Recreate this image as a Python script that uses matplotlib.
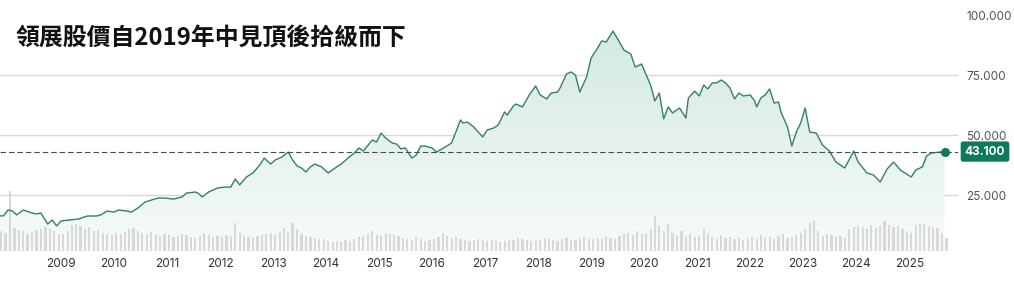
import numpy as np
import pandas as pd
import matplotlib
matplotlib.use("Agg")
import matplotlib.pyplot as plt
import matplotlib.dates as mdates
import matplotlib.transforms as mtransforms

plt.rcParams['font.family'] = ['Inter', 'Noto Sans CJK TC', 'DejaVu Sans']

title = "領展股價自2019年中見頂後拾級而下"

# closing price (HKD)
price_dates = [
    "2007-11-01", "2007-12-01", "2008-01-01", "2008-02-01", "2008-03-01", "2008-04-15",
    "2008-06-15", "2008-07-15", "2008-08-15", "2008-09-01", "2008-10-01", "2008-11-01",
    "2008-12-01", "2009-01-01", "2009-03-01", "2009-05-01", "2009-07-01", "2009-09-01",
    "2009-10-01", "2009-11-15", "2010-01-01", "2010-02-01", "2010-04-01", "2010-05-01",
    "2010-06-15", "2010-08-01", "2010-09-15", "2010-11-01", "2010-12-15", "2011-02-15",
    "2011-04-15", "2011-05-15", "2011-07-15", "2011-08-01", "2011-09-01", "2011-10-15",
    "2011-12-15", "2012-02-01", "2012-03-15", "2012-04-15", "2012-05-15", "2012-07-01",
    "2012-08-15", "2012-10-01", "2012-11-01", "2012-12-15", "2013-01-15", "2013-03-01",
    "2013-04-15", "2013-05-15", "2013-06-15", "2013-07-15", "2013-08-15", "2013-09-15",
    "2013-10-15", "2013-12-01", "2014-01-15", "2014-03-15", "2014-04-15", "2014-06-01",
    "2014-07-15", "2014-08-15", "2014-09-15", "2014-10-01", "2014-11-15", "2014-12-15",
    "2015-01-15", "2015-02-15", "2015-04-01", "2015-05-01", "2015-06-01", "2015-07-01",
    "2015-08-15", "2015-09-15", "2015-10-15", "2015-11-15", "2016-01-01", "2016-02-01",
    "2016-04-01", "2016-05-15", "2016-07-15", "2016-08-01", "2016-09-01", "2016-10-15",
    "2016-12-15", "2017-01-15", "2017-03-01", "2017-04-01", "2017-05-15", "2017-06-01",
    "2017-07-15", "2017-08-01", "2017-09-15", "2017-11-01", "2017-12-15", "2018-01-15",
    "2018-03-01", "2018-04-01", "2018-05-15", "2018-06-01", "2018-07-15", "2018-08-15",
    "2018-09-15", "2018-10-15", "2018-12-01", "2019-01-01", "2019-02-15", "2019-03-15",
    "2019-04-15", "2019-06-01", "2019-07-15", "2019-08-15", "2019-10-01", "2019-11-01",
    "2019-12-15", "2020-01-01", "2020-02-15", "2020-03-15", "2020-04-15", "2020-05-15",
    "2020-06-15", "2020-07-15", "2020-09-01", "2020-10-15", "2020-11-01", "2020-12-15",
    "2021-01-15", "2021-02-15", "2021-03-15", "2021-04-15", "2021-05-15", "2021-06-15",
    "2021-07-15", "2021-08-15", "2021-09-15", "2021-10-15", "2021-11-15", "2022-01-01",
    "2022-02-01", "2022-02-15", "2022-03-15", "2022-04-15", "2022-05-15", "2022-06-15",
    "2022-07-15", "2022-08-01", "2022-09-15", "2022-10-15", "2022-11-15", "2022-12-15",
    "2023-01-15", "2023-02-15", "2023-04-01", "2023-05-15", "2023-07-01", "2023-08-15",
    "2023-10-15", "2023-12-15", "2024-01-15", "2024-03-15", "2024-05-01", "2024-06-15",
    "2024-08-01", "2024-09-15", "2024-11-01", "2025-01-15", "2025-02-15", "2025-04-01",
    "2025-05-01", "2025-06-01", "2025-09-01",
]
prices = [
    16.3, 16.3, 18.75, 18.3, 16.7, 18.75,
    17.5, 17.1, 17.5, 15.8, 12.9, 14.6,
    12.1, 14.2, 14.6, 15.0, 16.25, 16.25,
    16.7, 18.3, 17.9, 18.75, 18.3, 17.9,
    19.6, 22.0, 22.9, 23.75, 23.75, 23.3,
    24.2, 25.8, 26.25, 25.8, 24.2, 26.25,
    27.9, 28.3, 28.3, 31.7, 29.2, 32.5,
    34.2, 37.5, 40.4, 37.9, 39.6, 40.8,
    42.9, 39.6, 37.1, 36.25, 34.6, 36.7,
    37.9, 36.7, 34.2, 36.7, 37.9, 40.4,
    42.5, 44.6, 43.3, 44.6, 47.9, 47.1,
    50.8, 48.75, 46.7, 46.25, 44.2, 44.6,
    40.4, 41.7, 45.4, 45.4, 44.6, 42.9,
    45.0, 46.7, 56.25, 55.0, 55.4, 53.3,
    49.2, 52.1, 52.9, 54.2, 59.6, 58.3,
    62.1, 62.9, 61.7, 66.7, 70.4, 66.7,
    65.0, 67.5, 67.9, 69.6, 75.4, 76.25,
    75.0, 67.9, 74.2, 82.1, 86.25, 89.2,
    88.75, 93.3, 88.75, 85.4, 83.75, 78.3,
    79.6, 77.1, 70.8, 64.2, 67.5, 56.7,
    61.7, 59.2, 61.25, 57.1, 65.4, 68.3,
    66.25, 70.8, 69.2, 71.7, 71.7, 72.9,
    71.7, 69.6, 65.0, 67.5, 66.25, 66.7,
    64.2, 61.7, 65.4, 66.7, 69.2, 63.3,
    63.75, 59.6, 53.3, 45.4, 51.25, 55.0,
    61.25, 51.25, 50.8, 45.8, 43.3, 38.75,
    36.25, 43.3, 38.75, 34.2, 33.3, 30.4,
    35.8, 38.75, 35.4, 32.5, 35.4, 36.7,
    41.25, 42.5, 43.1,
]
last_price = 43.1

# monthly turnover (relative units), Nov 2007 - Sep 2025
volume_start = "2007-11-01"
volumes = [
    20, 18,
    60, 23, 21, 20, 17, 19, 21, 22, 24, 22, 20, 17,
    17, 20, 26, 27, 25, 22, 24, 20, 21, 18, 17, 16,
    18, 17, 19, 22, 23, 20, 18, 17, 19, 16, 15, 17,
    16, 14, 15, 17, 16, 14, 13, 15, 18, 16, 14, 15,
    14, 16, 15, 28, 18, 15, 14, 13, 15, 16, 17, 18,
    16, 20, 23, 19, 28, 22, 17, 15, 14, 13, 12, 12,
    10, 9, 10, 9, 11, 10, 12, 14, 15, 17, 20, 16,
    15, 18, 17, 16, 15, 13, 12, 11, 14, 12, 10, 11,
    12, 14, 18, 15, 13, 14, 12, 11, 10, 11, 12, 11,
    10, 11, 10, 9, 10, 12, 11, 13, 12, 11, 10, 12,
    11, 13, 12, 11, 10, 12, 13, 12, 11, 12, 14, 12,
    12, 13, 12, 14, 13, 12, 15, 17, 18, 16, 20, 17,
    18, 22, 35, 25, 20, 27, 18, 16, 20, 15, 17, 14,
    15, 22, 18, 14, 12, 16, 13, 14, 12, 13, 11, 12,
    14, 12, 16, 13, 14, 12, 15, 17, 13, 14, 16, 18,
    22, 28, 30, 20, 15, 17, 16, 14, 15, 13, 22, 24,
    25, 24, 22, 26, 23, 25, 30, 26, 24, 25, 22, 20,
    18, 26, 28, 27, 25, 24, 23, 18, 13,
]

y_ticks = [25, 50, 75, 100]
grid_levels = [25, 50, 75]
years = list(range(2009, 2026))

line_color = "#34806b"
badge_color = "#0f7a5a"

W, H = 1014, 290
fig = plt.figure(figsize=(W / 100, H / 100), dpi=100)
ax = fig.add_axes([0, (H - 251) / H, 958 / W, 251 / H])

x = mdates.date2num(pd.to_datetime(price_dates))
y = np.array(prices)

ymin, ymax = 1.67, 106.25
xmin = mdates.date2num(pd.Timestamp("2007-11-07"))
xmax = mdates.date2num(pd.Timestamp("2025-12-03"))

# gradient area under the line
poly = ax.fill_between(x, y, ymin, color="none", lw=0)
c_top = np.array(matplotlib.colors.to_rgb("#cfe6e1"))
c_bot = np.array(matplotlib.colors.to_rgb("#f7fbfa"))
g = np.linspace(1, 0, 256)[:, None]
grad = (c_bot + (c_top - c_bot) * g)[:, None, :]
img = ax.imshow(grad, aspect="auto", extent=[x[0], x[-1], ymin, ymax],
                origin="upper", zorder=1, interpolation="bilinear")
img.set_clip_path(poly.get_paths()[0], transform=ax.transData)

for lvl in grid_levels:
    ax.axhline(lvl, color="#d9d9d9", lw=1.0, zorder=0.5)

ax.set_xlim(xmin, xmax)
ax.set_ylim(ymin, ymax)

# volume bars on a twin axis
axv = ax.twinx()
vx = mdates.date2num(pd.date_range(volume_start, periods=len(volumes), freq="MS") + pd.Timedelta(days=14))
axv.bar(vx, volumes, width=15, color="#d8d8d8", zorder=2)
axv.set_ylim(0, 251)
axv.set_yticks([])
axv.patch.set_visible(False)

# price line drawn above bars
axl = ax.twinx()
axl.set_ylim(ymin, ymax)
axl.plot(x, y, color=line_color, lw=1.0, zorder=3)
axl.axhline(last_price, color="#3b544d", lw=0.8, dashes=(5, 2.6), zorder=3)
axl.plot([x[-1]], [last_price], "o", color=badge_color, ms=5.5, zorder=4)
axl.set_yticks([])
axl.patch.set_visible(False)

for a in (ax, axv, axl):
    a.set_xlim(xmin, xmax)
    for s in a.spines.values():
        s.set_visible(False)

ax.set_yticks(y_ticks)
ax.set_yticklabels([f"{v:.3f}" for v in y_ticks])
ax.yaxis.tick_right()
ax.tick_params(axis="y", length=0, pad=6, labelsize=8.5, labelcolor="#555555")

ax.set_xticks(mdates.date2num([pd.Timestamp(f"{yr}-01-01") for yr in years]))
ax.set_xticklabels([str(yr) for yr in years])
ax.tick_params(axis="x", length=0, pad=5, labelsize=8.5, labelcolor="#333333")

trans = mtransforms.blended_transform_factory(fig.transFigure, ax.transData)
axl.text(985 / W, last_price, f"{last_price:.3f}", transform=trans, ha="center", va="center",
         fontsize=8.5, fontweight="bold", color="white", zorder=6, clip_on=False,
         bbox=dict(boxstyle="round,pad=0.35,rounding_size=0.2", fc=badge_color, ec="none"))

fig.text(15 / W, 1 - 38 / H, title, fontsize=17.2, fontweight="bold", va="center", ha="left",
         family=["Noto Sans CJK TC", "DejaVu Sans"], color="#111111")

fig.savefig("out.png", dpi=100, facecolor="white")
